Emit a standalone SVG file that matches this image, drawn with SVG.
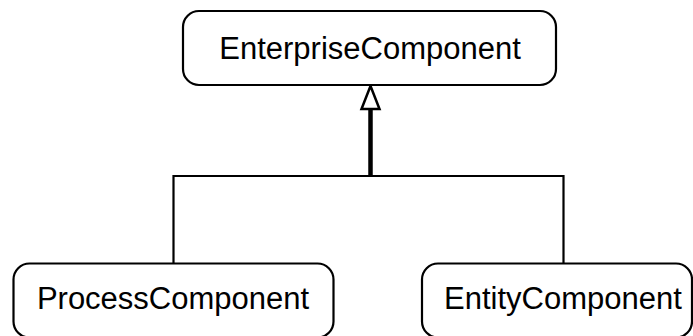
<svg xmlns="http://www.w3.org/2000/svg" width="693" height="336" viewBox="0 0 693 336">
<style>
.box{fill:#fff;stroke:#000;stroke-width:2.2}
.lbl{font-family:"Liberation Sans",Arial,sans-serif;font-size:31px;fill:#000;text-anchor:middle}
.con{fill:none;stroke:#000;stroke-width:2.2}
</style>
<rect width="693" height="336" fill="#fff"/>
<g id="connectors">
<path class="con" d="M173.5,263 V176 H563.5 V263"/>
<line x1="370.5" y1="108" x2="370.5" y2="176" stroke="#000" stroke-width="4.5"/>
<polygon points="370.5,86 361.5,109 379.5,109" fill="#fff" stroke="#000" stroke-width="2.5" stroke-linejoin="miter"/>
</g>
<g id="EnterpriseComponent">
<rect class="box" x="183" y="11" width="373" height="74" rx="16" ry="16"/>
<text class="lbl" x="370" y="58.5">EnterpriseComponent</text>
</g>
<g id="ProcessComponent">
<rect class="box" x="13.5" y="263.5" width="320" height="74" rx="16" ry="16"/>
<text class="lbl" x="173" y="308.5">ProcessComponent</text>
</g>
<g id="EntityComponent">
<rect class="box" x="422" y="263.5" width="270" height="74" rx="16" ry="16"/>
<text class="lbl" x="563" y="308.5">EntityComponent</text>
</g>
</svg>
